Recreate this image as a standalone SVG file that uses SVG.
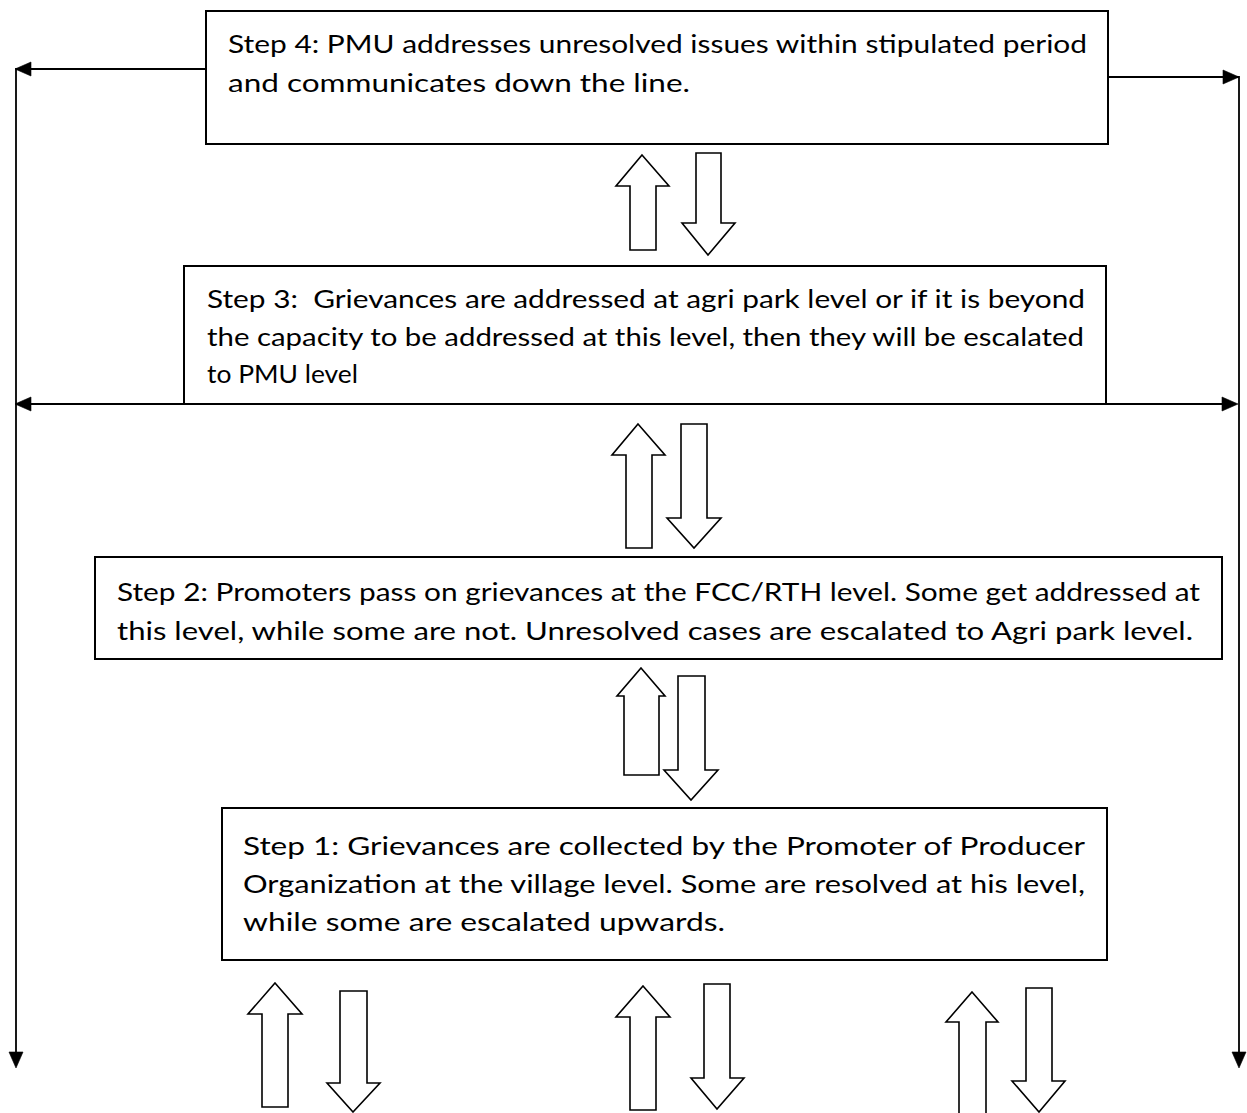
<svg xmlns="http://www.w3.org/2000/svg" width="1247" height="1113" viewBox="0 0 1247 1113">
<style>
.box{fill:#fff;stroke:#000;stroke-width:2}
.t{font-family:Lato,"Open Sans",sans-serif;font-size:25px;fill:#000}
.blk{fill:#fff;stroke:#000;stroke-width:1.6;stroke-linejoin:miter}
.ln{fill:none;stroke:#000;stroke-width:1.8}
.hd{fill:#000;stroke:#000;stroke-width:0.6}
</style>
<defs>
<path id="head" d="M0,0 L-16,-7 L-16,7 z"/>
</defs>
<rect width="1247" height="1113" fill="#fff"/>
<g id="connectors">
<polyline class="ln" points="206,69 16,69 16,1055"/>
<polyline class="ln" points="1108,77 1239,77 1239,1055"/>
<line class="ln" x1="20" y1="404" x2="1230" y2="404"/>
<use href="#head" class="hd" transform="translate(15,69) rotate(180)"/>
<use href="#head" class="hd" transform="translate(16,1068) rotate(90)"/>
<use href="#head" class="hd" transform="translate(1239,77)"/>
<use href="#head" class="hd" transform="translate(1239,1068) rotate(90)"/>
<use href="#head" class="hd" transform="translate(15,404) rotate(180)"/>
<use href="#head" class="hd" transform="translate(1238,404)"/>
<g id="pairA">
<polygon class="blk" points="642,155 669,186 656,186 656,250 630,250 630,186 616,186"/>
<polygon class="blk" points="696,153 721,153 721,223 735,223 708,255 682,223 696,223"/>
</g>
<g id="pairB">
<polygon class="blk" points="638,424 665,455 652,455 652,548 626,548 626,455 612,455"/>
<polygon class="blk" points="681,424 707,424 707,518 721,518 694,548 667,518 681,518"/>
</g>
<g id="pairC">
<polygon class="blk" points="641,668 665,696 659,696 659,775 624,775 624,696 617,696"/>
<polygon class="blk" points="678,676 705,676 705,770 718,770 691,800 664,770 678,770"/>
</g>
<g id="pairD">
<polygon class="blk" points="275,983 302,1014 288,1014 288,1107 262,1107 262,1014 248,1014"/>
<polygon class="blk" points="340,991 367,991 367,1083 380,1083 353,1112 327,1083 340,1083"/>
</g>
<g id="pairE">
<polygon class="blk" points="643,986 670,1017 656,1017 656,1110 630,1110 630,1017 616,1017"/>
<polygon class="blk" points="704,984 730,984 730,1078 744,1078 717,1109 691,1078 704,1078"/>
</g>
<g id="pairF">
<polygon class="blk" points="972,992 998,1022 986,1022 986,1118 959,1118 959,1022 946,1022"/>
<polygon class="blk" points="1026,988 1052,988 1052,1081 1065,1081 1039,1112 1012,1081 1026,1081"/>
</g>
</g>
<g id="step4">
<rect class="box" x="206" y="11" width="902" height="133"/>
<text class="t" x="228" y="53" textLength="859" lengthAdjust="spacingAndGlyphs">Step 4: PMU addresses unresolved issues within stipulated period</text>
<text class="t" x="228" y="92" textLength="462" lengthAdjust="spacingAndGlyphs">and communicates down the line.</text>
</g>
<g id="step3">
<rect class="box" x="184" y="266" width="922" height="138"/>
<text class="t" x="207" y="308" textLength="878" lengthAdjust="spacingAndGlyphs" xml:space="preserve">Step 3:  Grievances are addressed at agri park level or if it is beyond</text>
<text class="t" x="207" y="346" textLength="877" lengthAdjust="spacingAndGlyphs">the capacity to be addressed at this level, then they will be escalated</text>
<text class="t" x="207" y="383" textLength="151" lengthAdjust="spacingAndGlyphs">to PMU level</text>
</g>
<g id="step2">
<rect class="box" x="95" y="557" width="1127" height="102"/>
<text class="t" x="117" y="601" textLength="1083" lengthAdjust="spacingAndGlyphs">Step 2: Promoters pass on grievances at the FCC/RTH level. Some get addressed at</text>
<text class="t" x="117" y="640" textLength="1076" lengthAdjust="spacingAndGlyphs">this level, while some are not. Unresolved cases are escalated to Agri park level.</text>
</g>
<g id="step1">
<rect class="box" x="222" y="808" width="885" height="152"/>
<text class="t" x="243" y="855" textLength="842" lengthAdjust="spacingAndGlyphs">Step 1: Grievances are collected by the Promoter of Producer</text>
<text class="t" x="243" y="893" textLength="842" lengthAdjust="spacingAndGlyphs">Organization at the village level. Some are resolved at his level,</text>
<text class="t" x="243" y="931" textLength="482" lengthAdjust="spacingAndGlyphs">while some are escalated upwards.</text>
</g>
</svg>
